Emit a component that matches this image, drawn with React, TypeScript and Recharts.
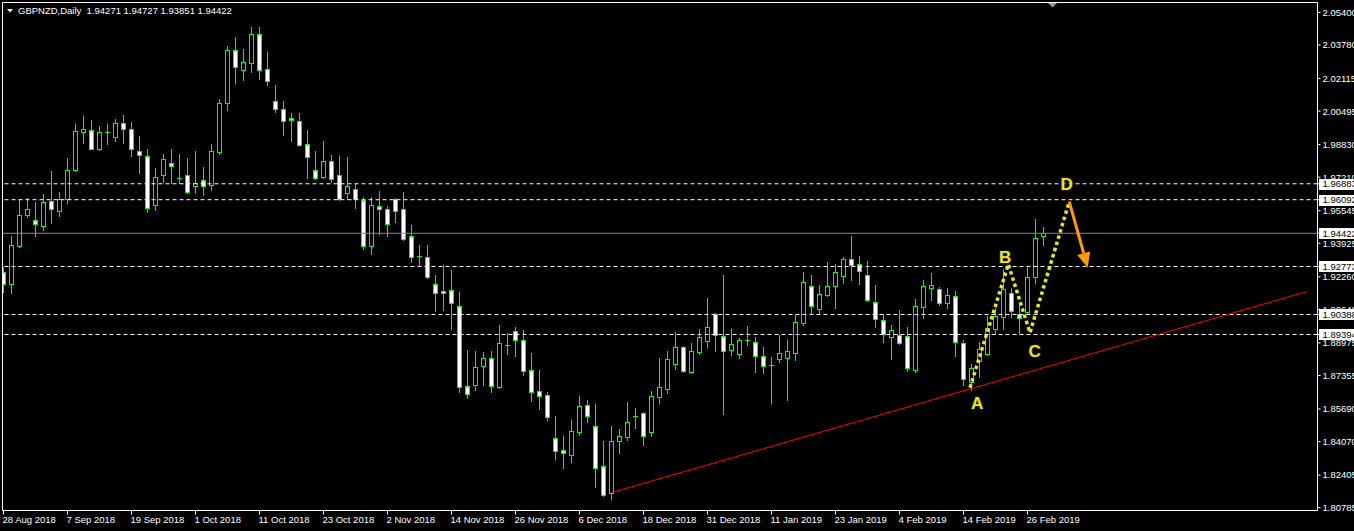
import React from 'react';
import { ComposedChart, Bar, Line, XAxis, YAxis, ReferenceLine, Scatter } from 'recharts';

// ---- data ----
const dateLabels = ['28 Aug 2018', '7 Sep 2018', '19 Sep 2018', '1 Oct 2018', '11 Oct 2018', '23 Oct 2018', '2 Nov 2018', '14 Nov 2018', '26 Nov 2018', '6 Dec 2018', '18 Dec 2018', '31 Dec 2018', '11 Jan 2019', '23 Jan 2019', '4 Feb 2019', '14 Feb 2019', '26 Feb 2019'];
const dateTickIndex = [0, 8, 16, 24, 32, 40, 48, 56, 64, 72, 80, 88, 96, 104, 112, 120, 128];

const opens = [1.92499, 1.91902, 1.93791, 1.95332, 1.95083, 1.94785, 1.96027, 1.9553, 1.96127, 1.97568, 1.99457, 1.99556, 1.98612, 1.99457, 1.99208, 1.99904, 1.99606, 1.98512, 1.98264, 1.95829, 1.9732, 1.97916, 1.9717, 1.9732, 1.96773, 1.97071, 1.96823, 1.98463, 2.00898, 2.03532, 2.02538, 2.02886, 2.04327, 2.02588, 2.00997, 2.006, 2.00152, 2.00003, 1.9886, 1.97568, 1.9722, 1.98015, 1.9732, 1.96425, 1.96624, 1.96077, 1.93791, 1.95779, 1.9563, 1.96127, 1.9563, 1.94288, 1.93294, 1.93244, 1.91902, 1.91554, 1.91604, 1.90809, 1.86833, 1.86882, 1.87827, 1.88225, 1.86783, 1.88871, 1.89566, 1.89119, 1.87628, 1.86584, 1.86386, 1.84248, 1.83652, 1.83404, 1.84547, 1.85889, 1.84845, 1.82857, 1.81515, 1.84099, 1.84298, 1.85342, 1.85491, 1.84547, 1.86286, 1.86684, 1.87927, 1.88771, 1.87529, 1.88523, 1.89069, 1.90411, 1.89318, 1.88622, 1.88423, 1.89119, 1.8902, 1.88324, 1.87877, 1.88175, 1.88225, 1.88473, 1.89964, 1.91803, 1.9066, 1.91356, 1.91803, 1.923, 1.93145, 1.92896, 1.9235, 1.91008, 1.90113, 1.89268, 1.89367, 1.89318, 1.87627, 1.90759, 1.91703, 1.91654, 1.90958, 1.91306, 1.8897, 1.87032, 1.88076, 1.88423, 1.89666, 1.90262, 1.91455, 1.90411, 1.90511, 1.9225, 1.94271];
const highs = [1.92747, 1.94288, 1.96077, 1.96176, 1.95978, 1.96375, 1.97518, 1.96475, 1.98164, 1.99854, 2.00252, 2.00053, 1.99755, 1.99854, 2.00103, 2.00302, 1.99954, 1.99258, 1.98612, 1.97668, 1.98363, 1.98612, 1.98363, 1.98164, 1.98512, 1.97717, 1.9886, 2.01097, 2.03731, 2.04178, 2.03582, 2.04675, 2.04675, 2.03433, 2.01792, 2.00997, 2.00401, 2.00401, 1.99556, 1.98512, 1.99009, 1.98314, 1.98264, 1.98214, 1.96872, 1.96226, 1.96226, 1.96524, 1.95779, 1.96176, 1.96475, 1.94834, 1.93841, 1.93841, 1.9235, 1.92847, 1.92598, 1.91505, 1.88622, 1.88572, 1.88523, 1.88572, 1.89865, 1.89467, 1.89765, 1.89616, 1.88473, 1.87628, 1.86535, 1.85342, 1.84348, 1.85143, 1.86336, 1.86137, 1.85938, 1.84099, 1.84845, 1.84696, 1.86037, 1.8574, 1.85541, 1.86584, 1.88225, 1.88572, 1.89517, 1.88821, 1.8897, 1.89666, 1.91206, 1.90461, 1.9235, 1.89666, 1.89218, 1.89815, 1.89268, 1.88771, 1.88274, 1.89367, 1.89119, 1.90362, 1.92499, 1.9235, 1.91853, 1.92996, 1.92896, 1.93244, 1.94288, 1.93294, 1.93045, 1.91853, 1.90411, 1.89865, 1.9061, 1.89765, 1.91157, 1.92101, 1.92449, 1.91753, 1.91703, 1.91554, 1.89119, 1.87926, 1.8902, 1.90312, 1.90709, 1.92648, 1.91703, 1.90908, 1.92797, 1.95133, 1.94727];
const lows = [1.91505, 1.91455, 1.93741, 1.95232, 1.94288, 1.94586, 1.94934, 1.95282, 1.95928, 1.97518, 1.9891, 1.9859, 1.98562, 1.9886, 1.99009, 1.9891, 1.98264, 1.97419, 1.95481, 1.9558, 1.96972, 1.96922, 1.96922, 1.96425, 1.96425, 1.96326, 1.96574, 1.98363, 2.0055, 2.01892, 2.02041, 2.02439, 2.02091, 2.01792, 2.00451, 1.99308, 1.99009, 1.98761, 1.9717, 1.97121, 1.9717, 1.96972, 1.96077, 1.96127, 1.95679, 1.93642, 1.93393, 1.94387, 1.94288, 1.94984, 1.94089, 1.92996, 1.92847, 1.92201, 1.9056, 1.9061, 1.89666, 1.86535, 1.86236, 1.86634, 1.86882, 1.86535, 1.86733, 1.88423, 1.88324, 1.8738, 1.86087, 1.8569, 1.85143, 1.83204, 1.82757, 1.83055, 1.84398, 1.85044, 1.81813, 1.81366, 1.81217, 1.83503, 1.84149, 1.84745, 1.839, 1.84348, 1.85988, 1.86485, 1.87678, 1.87529, 1.87479, 1.88423, 1.88771, 1.88572, 1.85441, 1.88374, 1.88225, 1.88871, 1.87529, 1.87479, 1.85988, 1.88026, 1.86137, 1.88125, 1.89865, 1.90461, 1.90461, 1.91306, 1.90709, 1.91952, 1.92101, 1.91902, 1.91057, 1.89765, 1.8902, 1.88175, 1.88921, 1.87578, 1.87529, 1.90212, 1.91107, 1.90859, 1.90709, 1.88324, 1.86882, 1.86634, 1.8728, 1.88374, 1.89417, 1.89666, 1.90262, 1.89467, 1.90411, 1.91952, 1.93851];
const closes = [1.91902, 1.93841, 1.95332, 1.9563, 1.94884, 1.95978, 1.9563, 1.96127, 1.97568, 1.99506, 1.99606, 1.98612, 1.99457, 1.99447, 1.99904, 1.99606, 1.98612, 1.98314, 1.95679, 1.9722, 1.98115, 1.97767, 1.9716, 1.96475, 1.96922, 1.96773, 1.98512, 2.00898, 2.03532, 2.02687, 2.02936, 2.04327, 2.02538, 2.01991, 2.006, 2.00003, 2.00053, 1.9881, 1.98214, 1.9717, 1.98015, 1.97121, 1.96127, 1.96773, 1.96127, 1.93791, 1.95829, 1.9563, 1.94884, 1.9553, 1.94139, 1.93244, 1.93284, 1.9225, 1.91455, 1.91455, 1.90958, 1.86783, 1.86435, 1.87778, 1.88225, 1.86833, 1.8897, 1.88861, 1.89119, 1.87578, 1.86535, 1.86336, 1.85292, 1.83602, 1.83503, 1.84596, 1.85839, 1.85342, 1.82757, 1.81415, 1.84099, 1.84348, 1.85044, 1.85332, 1.84348, 1.86336, 1.86783, 1.88175, 1.88771, 1.87578, 1.88572, 1.89268, 1.89765, 1.89367, 1.88572, 1.88921, 1.89119, 1.89109, 1.88324, 1.87827, 1.87867, 1.88473, 1.88572, 1.90014, 1.92002, 1.90809, 1.91406, 1.91803, 1.92499, 1.93145, 1.92847, 1.92549, 1.91107, 1.90162, 1.89417, 1.89616, 1.8897, 1.87727, 1.90809, 1.91803, 1.91853, 1.90958, 1.91356, 1.8902, 1.87181, 1.87727, 1.88672, 1.89715, 1.90312, 1.91654, 1.9056, 1.90212, 1.9225, 1.94188, 1.94422];

const yAxisTicks = [2.054, 2.0378, 2.02115, 2.00495, 1.9883, 1.9721, 1.95545, 1.93925, 1.9226, 1.9064, 1.88975, 1.87355, 1.8569, 1.8407, 1.82405, 1.80785];
const dashedLevels = [1.96883, 1.96092, 1.92773, 1.90388, 1.89394];
const bidLevel = 1.94422;
const highlightLevels = [1.96883, 1.96092, 1.94422, 1.92773, 1.90388, 1.89394];

const trendLine = [{ i: 75.98, v: 1.8153 }, { i: 162.94, v: 1.91529 }];
const zigzag = [{ i: 120.81, v: 1.86748 }, { i: 125.6, v: 1.92881 }, { i: 128.31, v: 1.89482 }, { i: 133.22, v: 1.95993 }];
const arrowLine = [{ i: 133.22, v: 1.95993 }, { i: 135.02, v: 1.93431 }];
const waveLabels = [
  { i: 121.69, v: 1.85988, t: 'A' },
  { i: 125.19, v: 1.93244, t: 'B' },
  { i: 128.9, v: 1.88587, t: 'C' },
  { i: 132.9, v: 1.96907, t: 'D' },
];

const candles = opens.map((o, i) => ({ i, o, h: highs[i], l: lows[i], c: closes[i] }));

// ---- layout constants ----
const W = 1354;
const H = 531;
const X_MIN = -0.125;
const X_MAX = 164.25;
const Y_MIN = 1.806444;
const Y_MAX = 2.058929;
const FONT = '"Liberation Sans", Arial, sans-serif';
const GREEN = '#00ff00';
const YELLOW = '#e8e81c';
const ORANGE = '#ff9a0a';

const Candle = (props: any) => {
  const { x, y, width, height, payload } = props;
  if (!payload || height == null) return <g />;
  const { o, h, l, c } = payload;
  const cx = Math.floor(x + width / 2) + 0.5;
  const k = height / (h - l);
  const py = (p: number) => y + (h - p) * k;
  const top = Math.round(py(Math.max(o, c))) + 0.5;
  const bot = Math.round(py(Math.min(o, c))) + 0.5;
  const yH = Math.round(py(h));
  const yL = Math.round(py(l)) + 1;
  const bull = c > o;
  return (
    <g>
      <line x1={cx} x2={cx} y1={yH} y2={yL} stroke={GREEN} strokeWidth={1} />
      {bot - top < 1 ? (
        <line x1={cx - 2.5} x2={cx + 2.5} y1={top} y2={top} stroke={GREEN} strokeWidth={1} />
      ) : (
        <rect x={cx - 2} y={top} width={4} height={bot - top} fill={bull ? '#000' : '#fff'} stroke={GREEN} strokeWidth={1} />
      )}
    </g>
  );
};

const XTick = (props: any) => {
  const { x, payload } = props;
  const idx = dateTickIndex.indexOf(payload.value);
  return (
    <text x={x - 1} y={523} fill="#fff" fontSize={9.5} fontFamily={FONT} textAnchor="start">
      {idx >= 0 ? dateLabels[idx] : ''}
    </text>
  );
};

const YTick = (props: any) => {
  const { x, y, payload } = props;
  const v = payload.value as number;
  const isHi = highlightLevels.includes(v);
  return (
    <g>
      {isHi && <rect x={1319} y={Math.round(y) - 5} width={40} height={11} fill="#fff" />}
      <text x={x} y={y + 3.4} fill={isHi ? '#000' : '#fff'} fontSize={9.5} fontFamily={FONT} textAnchor="start">
        {v.toFixed(5)}
      </text>
    </g>
  );
};

let arrowPrev: { x: number; y: number } | null = null;
const ArrowDot = (props: any) => {
  const { cx, cy, index } = props;
  if (index === 0) {
    arrowPrev = { x: cx, y: cy };
    return <g key="ad0" />;
  }
  if (!arrowPrev) return <g key="ad1" />;
  const dx = cx - arrowPrev.x;
  const dy = cy - arrowPrev.y;
  const len = Math.hypot(dx, dy) || 1;
  const ux = dx / len;
  const uy = dy / len;
  const L = 15;
  const hw = 6.7;
  const tx = cx + ux * L;
  const ty = cy + uy * L;
  const pts = `${tx},${ty} ${cx - uy * hw},${cy + ux * hw} ${cx + uy * hw},${cy - ux * hw}`;
  return <polygon key="ad1" points={pts} fill={ORANGE} />;
};

const WaveLabel = (props: any) => {
  const { cx, cy, payload } = props;
  return (
    <text x={cx} y={cy + 6.5} fill={YELLOW} fontSize={17} fontWeight="bold" fontFamily={FONT} textAnchor="middle" stroke="rgba(40,40,20,0.6)" strokeWidth={2} paintOrder="stroke">
      {payload.t}
    </text>
  );
};

export default function App() {
  return (
    <div style={{ position: 'absolute', left: 0, top: 0, width: W, height: H, background: '#000', overflow: 'hidden' }}>
      <ComposedChart width={W} height={H} data={candles} margin={{ top: 2.5, right: 0, bottom: 0, left: 2.5 }}>
        <XAxis
          type="number"
          dataKey="i"
          domain={[X_MIN, X_MAX]}
          allowDataOverflow
          ticks={dateTickIndex}
          interval={0}
          height={20.5}
          axisLine={{ stroke: '#fff' }}
          tickLine={{ stroke: '#fff' }}
          tickSize={4}
          tick={<XTick />}
        />
        <YAxis
          type="number"
          orientation="right"
          domain={[Y_MIN, Y_MAX]}
          allowDataOverflow
          ticks={[...yAxisTicks, ...highlightLevels]}
          interval={0}
          width={36.5}
          axisLine={{ stroke: '#fff' }}
          tickLine={{ stroke: '#fff' }}
          tickSize={3}
          tickMargin={2}
          tick={<YTick />}
        />
        {dashedLevels.map((lv) => (
          <ReferenceLine key={lv} y={lv} stroke="#fff" strokeDasharray="4 3" strokeWidth={1} />
        ))}
        <ReferenceLine y={bidLevel} stroke="#7a8a9a" strokeWidth={1} />
        <Bar dataKey={(d: any) => [d.l, d.h]} barSize={5} shape={<Candle />} isAnimationActive={false} />
        <Line data={trendLine} dataKey="v" stroke="#ff0000" strokeWidth={1} dot={false} activeDot={false} isAnimationActive={false} />
        <Line data={zigzag} dataKey="v" stroke={YELLOW} strokeWidth={3.5} strokeDasharray="3.5 3" dot={false} activeDot={false} isAnimationActive={false} />
        <Line data={arrowLine} dataKey="v" stroke={ORANGE} strokeWidth={3} dot={ArrowDot} activeDot={false} isAnimationActive={false} />
        <Scatter data={waveLabels} dataKey="v" shape={<WaveLabel />} isAnimationActive={false} />
      </ComposedChart>
      <svg width={W} height={H} style={{ position: 'absolute', left: 0, top: 0, pointerEvents: 'none' }}>
        <line x1={2.5} y1={2.5} x2={1317.5} y2={2.5} stroke="#fff" strokeWidth={1} />
        <line x1={2.5} y1={2.5} x2={2.5} y2={510.5} stroke="#fff" strokeWidth={1} />
        <polygon points="1048,3 1057,3 1052.5,7.5" fill="#8c9cad" />
        <polygon points="7,9 13,9 10,12.5" fill="#fff" />
        <text x={18} y={14} fill="#fff" fontSize={9.5} fontFamily={FONT} style={{ whiteSpace: 'pre' }}>
          {'GBPNZD,Daily  1.94271 1.94727 1.93851 1.94422'}
        </text>
      </svg>
    </div>
  );
}
